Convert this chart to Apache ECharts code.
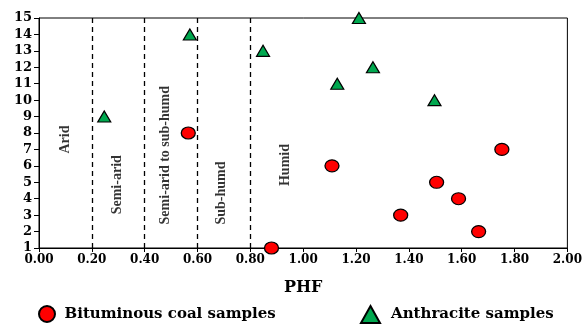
<!DOCTYPE html>
<html><head><meta charset="utf-8">
<script src="https://cdn.jsdelivr.net/npm/echarts@6/dist/echarts.min.js"></script>
<style>html,body{margin:0;padding:0;background:#fff}#c{width:585px;height:326px}</style>
</head><body><div id="c"></div>
<script>
var bituminous = [[0.565,8],[0.880,1],[1.109,6],[1.752,7],[1.505,5],[1.588,4],[1.369,3],[1.664,2]];
var anthracite = [[0.247,9],[0.571,14],[0.848,13],[1.211,15],[1.264,12],[1.129,11],[1.497,10]];
var boundaries = [0.2,0.4,0.6,0.8];
var zoneLabels = [
  {name:'Arid', value:[0.098,7.6]},
  {name:'Semi-arid', value:[0.295,4.85]},
  {name:'Semi-arid to sub-humd', value:[0.48,6.65]},
  {name:'Sub-humd', value:[0.692,4.35]},
  {name:'Humid', value:[0.934,6.05]}
];
var FONT = '"Liberation Serif","Times New Roman",serif';
var WIDE = '"DejaVu Serif",serif';
var chart = echarts.init(document.getElementById('c'));
chart.setOption({
  animation:false,
  backgroundColor:'#fff',
  grid:{left:39,right:17,top:18,bottom:78,show:true,borderColor:'#000',borderWidth:1},
  legend:[
    {left:33,top:300,itemWidth:17,itemHeight:16,
      textStyle:{fontFamily:WIDE,fontWeight:'bold',fontSize:15,color:'#000',padding:[0,0,0,4]},
      data:['Bituminous coal samples']},
    {left:355,top:300,itemWidth:19,itemHeight:17,
      textStyle:{fontFamily:WIDE,fontWeight:'bold',fontSize:15,color:'#000',padding:[0,0,0,6]},
      data:['Anthracite samples']}
  ],
  xAxis:{type:'value',min:0,max:2,interval:0.2,name:'PHF',nameLocation:'middle',nameGap:32,
    nameTextStyle:{fontFamily:WIDE,fontWeight:'bold',fontSize:16,color:'#000'},
    axisLine:{lineStyle:{color:'#000',width:1}},axisTick:{inside:false,length:4,lineStyle:{color:'#000'}},
    splitLine:{show:false},
    axisLabel:{fontFamily:WIDE,fontWeight:'bold',fontSize:12,color:'#000',margin:6,formatter:function(v){return v.toFixed(2);}}},
  yAxis:{type:'value',min:1,max:15,interval:1,
    axisLine:{show:true,lineStyle:{color:'#000',width:1}},axisTick:{show:true,inside:false,length:5,lineStyle:{color:'#000'}},
    splitLine:{show:false},
    axisLabel:{fontFamily:WIDE,fontWeight:'bold',fontSize:13,color:'#000',margin:7}},
  series:[
    {name:'zones',type:'scatter',data:zoneLabels,symbolSize:0,silent:true,
      label:{show:true,position:'inside',rotate:90,formatter:'{b}',fontFamily:FONT,fontWeight:'bold',fontSize:14,color:'#000'},
      markLine:{silent:true,symbol:'none',label:{show:false},lineStyle:{color:'#000',type:[5,4],width:1.3},
        data:boundaries.map(function(b){return {xAxis:b};})}},
    {name:'Bituminous coal samples',type:'scatter',data:bituminous,symbol:'circle',symbolSize:[14,12],
      itemStyle:{color:'#ff0000',borderColor:'#000',borderWidth:1.2,opacity:1}},
    {name:'Anthracite samples',type:'scatter',data:anthracite,symbol:'triangle',symbolSize:[13,11],
      itemStyle:{color:'#00a84f',borderColor:'#000',borderWidth:1.2,opacity:1}}
  ]
});
</script></body></html>
